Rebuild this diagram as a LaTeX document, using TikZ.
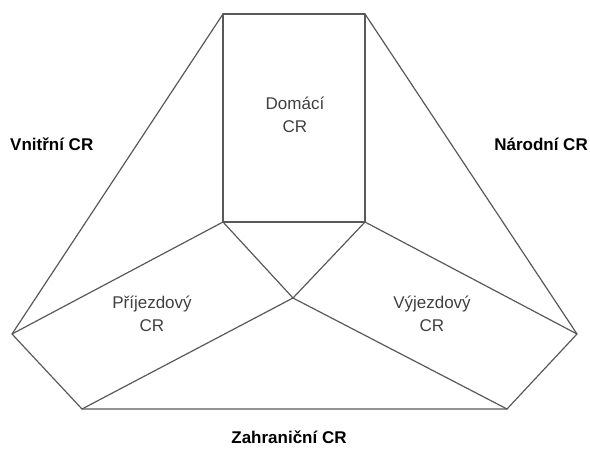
\documentclass[tikz,border=0pt]{standalone}
\usepackage{fontspec}
\setmainfont{Liberation Sans}
\begin{document}
\begin{tikzpicture}[x=1pt,y=-1pt,line join=round,line cap=round]
	\tikzset{hrana/.style={draw=black!65,line width=1.2pt},
		oblast/.style={text=black!75,align=center,anchor=base,inner sep=0pt,
			font=\fontsize{17}{23}\selectfont},
		druh/.style={inner sep=0pt,anchor=base,font=\fontsize{17}{23}\selectfont\bfseries}}
	\useasboundingbox (0,0) rectangle (590,448);
	% obdelnik domaci CR
	\coordinate (HL) at (223,14);
	\coordinate (HP) at (365,14);
	\coordinate (DL) at (223,222);
	\coordinate (DP) at (365,222);
	% stred a vrcholy
	\coordinate (S) at (293,298);
	\coordinate (L) at (12,334);
	\coordinate (P) at (577,334);
	\coordinate (ZL) at (82,409);
	\coordinate (ZP) at (507,409);
	\draw[hrana] (HL) rectangle (DP);
	\draw[hrana] (HL)--(L)--(ZL)--(ZP)--(P)--(HP);
	\draw[hrana] (L)--(DL)--(S)--(DP)--(P);
	\draw[hrana] (ZL)--(S)--(ZP);
	% popisky
	\node[oblast] (domaci) at (295,132) {Domácí\\CR};
	\node[oblast] (prijezd) at (152,331) {Příjezdový\\CR};
	\node[oblast] (vyjezd) at (432,331) {Výjezdový\\CR};
	\node[druh,anchor=base west] (vnitrni) at (10,150) {Vnitřní CR};
	\node[druh,anchor=base east] (narodni) at (588,150) {Národní CR};
	\node[druh] (zahranicni) at (289,443) {Zahraniční CR};
\end{tikzpicture}
\end{document}
